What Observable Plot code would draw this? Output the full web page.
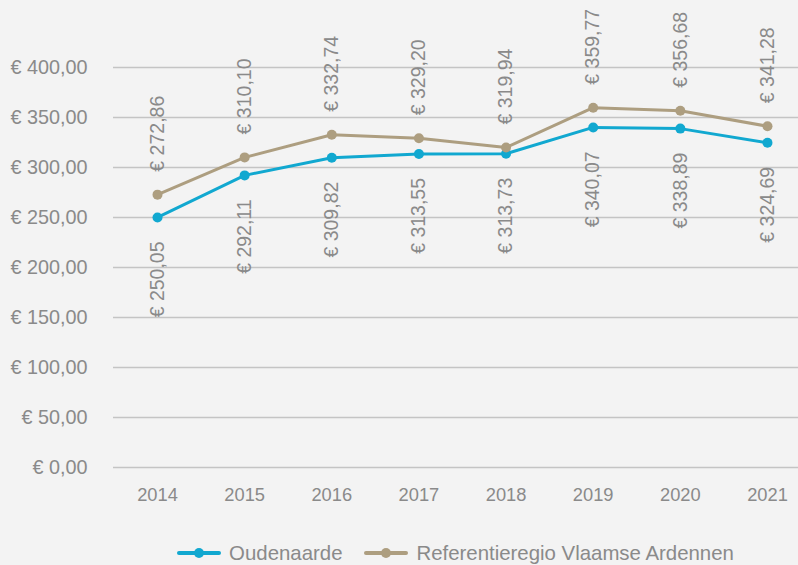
<!DOCTYPE html>
<html>
<head>
<meta charset="utf-8">
<script src="https://cdn.jsdelivr.net/npm/d3@7"></script>
<script src="https://cdn.jsdelivr.net/npm/@observablehq/plot@0.6"></script>
<style>
  html, body { margin: 0; padding: 0; background: #f3f3f3; }
  body { width: 798px; height: 565px; overflow: hidden; position: relative; font-family: "Liberation Sans", Arial, sans-serif; }
  #chart svg { display: block; overflow: visible; }
  #chart svg text { font-family: "Liberation Sans", Arial, sans-serif; }
  #chart g[aria-label="y-axis tick label"] text { font-size: 19.8px; }
  #chart g[aria-label="x-axis tick label"] text { font-size: 18.3px; }
  #chart g[aria-label="text"] text { font-size: 19.5px; }
  .legend { position: absolute; top: 541px; left: 113px; width: 685px; display: flex; justify-content: center; font-size: 20.4px; color: #8a8a8a; line-height: 24px; }
  .legend .item { display: flex; align-items: center; margin: 0 11px; }
  .legend svg { margin-right: 8px; }
</style>
</head>
<body>
<div id="chart"></div>
<div class="legend" id="legend"></div>
<script>
const years = [2014, 2015, 2016, 2017, 2018, 2019, 2020, 2021];
const oudenaarde = [250.05, 292.11, 309.82, 313.55, 313.73, 340.07, 338.89, 324.69];
const referentie = [272.86, 310.10, 332.74, 329.20, 319.94, 359.77, 356.68, 341.28];
const seriesNames = ["Oudenaarde", "Referentieregio Vlaamse Ardennen"];
const seriesColors = ["#11a8d0", "#ad9e80"];
const yTicks = [0, 50, 100, 150, 200, 250, 300, 350, 400];

const locale = d3.formatLocale({decimal: ",", thousands: ".", grouping: [3], currency: ["€ ", ""]});
const fmt = v => "€ " + locale.format(".2f")(v);

const data = [];
years.forEach((yr, i) => {
  data.push({year: yr, value: oudenaarde[i], series: seriesNames[0]});
  data.push({year: yr, value: referentie[i], series: seriesNames[1]});
});
const dataO = data.filter(d => d.series === seriesNames[0]);
const dataR = data.filter(d => d.series === seriesNames[1]);

const chart = Plot.plot({
  width: 798,
  height: 520,
  marginLeft: 113,
  marginRight: 0,
  marginTop: 67,
  marginBottom: 53,
  style: {background: "#f3f3f3", fontFamily: "Liberation Sans, Arial, sans-serif", fontSize: "18px", color: "#8a8a8a"},
  x: {domain: [2013.495, 2021.356], label: null},
  y: {domain: [0, 400], label: null},
  color: {domain: seriesNames, range: seriesColors},
  marks: [
    Plot.gridY(yTicks, {stroke: "#c4c4c4", strokeOpacity: 1, strokeWidth: 1.3}),
    Plot.axisY(yTicks, {tickFormat: fmt, tickSize: 0, tickPadding: 26, fill: "#8a8a8a", label: null}),
    Plot.axisX(years, {tickFormat: d => String(d), tickSize: 0, tickPadding: 20, fill: "#8a8a8a", label: null}),
    Plot.line(data, {x: "year", y: "value", z: "series", stroke: "series", strokeWidth: 3}),
    Plot.dot(data, {x: "year", y: "value", fill: "series", r: 5}),
    Plot.text(dataR, {x: "year", y: "value", text: d => fmt(d.value), rotate: -90, textAnchor: "start", dy: -23, fill: "#8a8a8a"}),
    Plot.text(dataO, {x: "year", y: "value", text: d => fmt(d.value), rotate: -90, textAnchor: "end", dy: 24, fill: "#8a8a8a"})
  ]
});
document.getElementById("chart").appendChild(chart);

const legend = document.getElementById("legend");
seriesNames.forEach((name, i) => {
  const item = document.createElement("div");
  item.className = "item";
  item.innerHTML = `<svg width="44" height="12"><line x1="2" y1="6" x2="42" y2="6" stroke="${seriesColors[i]}" stroke-width="4" stroke-linecap="round"/><circle cx="22" cy="6" r="5" fill="${seriesColors[i]}"/></svg><span>${name}</span>`;
  legend.appendChild(item);
});
</script>
</body>
</html>
